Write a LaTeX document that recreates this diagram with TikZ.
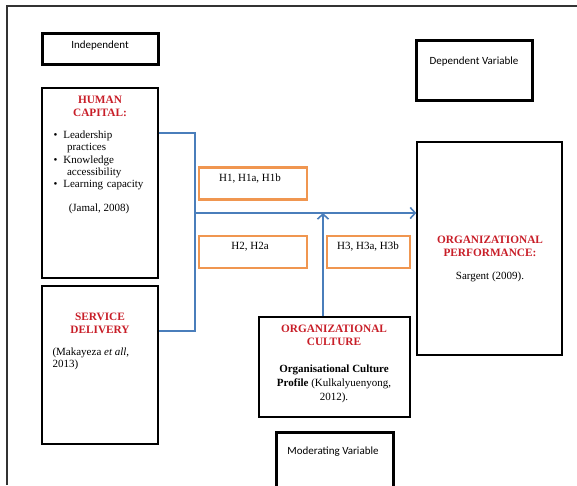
\documentclass[tikz,border=0pt]{standalone}
\usepackage{fontspec}
\setmainfont{Liberation Serif}
\newfontfamily\calibri{Carlito}
\usetikzlibrary{arrows.meta}
\definecolor{titlered}{RGB}{200,30,40}
\definecolor{linkblue}{RGB}{74,126,187}
\definecolor{hypo}{RGB}{240,150,80}

\begin{document}
\begin{tikzpicture}[x=1pt, y=-1pt,
    box/.style={draw, line width=1.4pt, inner sep=0pt},
    varbox/.style={draw, line width=3pt, inner sep=0pt},
    hbox/.style={draw=hypo, line width=2.5pt, inner sep=0pt, minimum width=108, minimum height=32},
    link/.style={draw=linkblue, line width=1.6pt},
    title/.style={text=titlered, font=\bfseries\fontsize{11.3}{12.8}\selectfont, align=center},
    body/.style={font=\fontsize{11}{12.3}\selectfont},
    sans/.style={font=\calibri\fontsize{11}{13}\selectfont}]
        \useasboundingbox (0,0) rectangle (577,485);
        % frame of the page
        \draw [line width=1.3pt, black!80] (7,485) -- (7,6) -- (577,6);
        % variable labels
        \node (indep) at (100,48.5) [varbox, minimum width=116, minimum height=31] {};
        \node at (100,46) [sans] {Independent};
        \node (dep) at (474,70) [varbox, minimum width=116, minimum height=60] {};
        \node at (474,62) [sans] {Dependent Variable};
        \node (moder) at (334.5,460) [varbox, minimum width=117, minimum height=56] {};
        \node at (333,452) [sans] {Moderating Variable};
        % independent variables
        \node (human) at (100,183) [box, minimum width=116, minimum height=190] {};
        \node at (100,106) [title] {HUMAN\\CAPITAL:};
        \node at (50,160.5) [body, anchor=west, text width=104, align=left] {%
            \textbullet\hspace{6pt}Leadership\\\hspace*{13.5pt}practices\\
            \textbullet\hspace{6pt}Knowledge\\\hspace*{13.5pt}accessibility\\
            \textbullet\hspace{6pt}Learning capacity};
        \node at (99,209) [body] {(Jamal, 2008)};
        \node (service) at (100,365) [box, minimum width=116, minimum height=158] {};
        \node at (100,323) [title] {SERVICE\\DELIVERY};
        \node at (49,359) [body, anchor=west, align=left] {(Makayeza \textit{et all},\\2013)};
        % dependent variable
        \node (perf) at (489.5,248.5) [box, minimum width=145, minimum height=213] {};
        \node at (490,246.5) [title] {ORGANIZATIONAL\\PERFORMANCE:};
        \node at (490,277) [body] {Sargent (2009).};
        % moderating variable
        \node (culture) at (334.5,367) [box, minimum width=151, minimum height=100] {};
        \node at (334,335) [title] {ORGANIZATIONAL\\CULTURE};
        \node at (334,384) [body, align=center, font=\fontsize{11}{14}\selectfont] {\textbf{Organisational Culture}\\\textbf{Profile} (Kulkalyuenyong,\\2012).};
        % hypotheses
        \node (h1) at (253,183.5) [hbox] {};
        \node at (250,179) [body] {H1, H1a, H1b};
        \node (h2) at (253,252) [hbox] {};
        \node at (250,247) [body] {H2, H2a};
        \node (h3) at (368.5,252) [hbox, minimum width=83] {};
        \node at (368,247) [body] {H3, H3a, H3b};
        % links
        \coordinate (hcout) at (158,133);
        \coordinate (sdout) at (158,331);
        \coordinate (join) at (195,213);
        \coordinate (meet) at (323,213);
        \draw [link] (human.east |- hcout) -- (hcout -| join) -- (sdout -| join) -- (service.east |- sdout);
        \draw [link, -{Straight Barb[length=5pt, width=11pt]}] (join) -- (perf.west |- join);
        \draw [link, -{Straight Barb[length=5pt, width=11pt]}] (culture.north -| meet) -- (meet);
\end{tikzpicture}
\end{document}
